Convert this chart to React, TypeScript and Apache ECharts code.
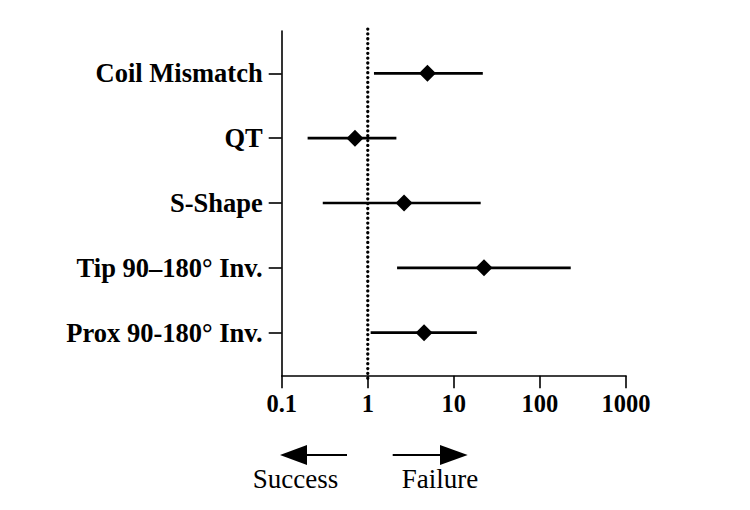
import React, { useEffect, useRef } from "react";
import * as echarts from "echarts";

const categories = [
  "Coil Mismatch",
  "QT",
  "S-Shape",
  "Tip 90–180° Inv.",
  "Prox 90-180° Inv.",
];
const oddsRatio = [4.93, 0.71, 2.64, 22.4, 4.51];
const lowerCI = [1.18, 0.2, 0.3, 2.19, 1.08];
const upperCI = [21.7, 2.15, 20.5, 228, 18.5];
const xTicks = [0.1, 1, 10, 100, 1000];
const refValue = 1;

const FONT = "'Liberation Serif', 'Times New Roman', serif";

export default function App() {
  const ref = useRef<HTMLDivElement>(null);
  useEffect(() => {
    if (!ref.current) return;
    const chart = echarts.init(ref.current, undefined, { renderer: "svg" });
    const positions = categories.map((_, i) => i + 1);
    const yMin = 0.348;
    const yMax = 5.663;
    chart.setOption({
      animation: false,
      backgroundColor: "#ffffff",
      grid: { left: 281.7, right: 124, top: 31, bottom: 134.3, containLabel: false },
      xAxis: {
        type: "log",
        logBase: 10,
        min: xTicks[0],
        max: xTicks[xTicks.length - 1],
        axisLine: { show: true, lineStyle: { color: "#000", width: 1.6 } },
        axisTick: { show: true, length: 12.5, lineStyle: { color: "#000", width: 1.6 } },
        splitLine: { show: false },
        minorTick: { show: false },
        axisLabel: {
          margin: 15,
          color: "#000",
          fontFamily: FONT,
          fontWeight: "bold",
          fontSize: 24.5,
          formatter: (v: number) => {
            const r = Number(v.toPrecision(6));
            return String(r);
          },
        },
      },
      yAxis: {
        type: "value",
        inverse: true,
        min: yMin,
        max: yMax,
        splitLine: { show: false },
        axisLine: { show: true, onZero: false, lineStyle: { color: "#000", width: 1.6 } },
        axisTick: {
          show: true,
          length: 13,
          customValues: positions,
          lineStyle: { color: "#000", width: 1.6 },
        },
        axisLabel: {
          margin: 19,
          color: "#000",
          fontFamily: FONT,
          fontWeight: "bold",
          fontSize: 26.5,
          customValues: positions,
          formatter: (v: number) => categories[Math.round(v) - 1] ?? "",
        },
      },
      series: [
        {
          type: "custom",
          data: [[refValue, yMin - 0.03, yMax + 0.08]],
          renderItem: (params: any, api: any) => {
            const p1 = api.coord([api.value(0), api.value(1)]);
            const p2 = api.coord([api.value(0), api.value(2)]);
            const step = 4.85;
            const n = Math.floor((p2[1] - p1[1]) / step);
            const children = [];
            for (let k = 0; k <= n; k++) {
              children.push({
                type: "circle",
                shape: { cx: p1[0], cy: p1[1] + k * step, r: 1.65 },
                style: { fill: "#000" },
              });
            }
            return { type: "group", children };
          },
          encode: { x: 0, y: [1, 2] },
          clip: false,
          silent: true,
          z: 1,
        },
        {
          type: "custom",
          data: categories.map((_, i) => [lowerCI[i], upperCI[i], i + 1]),
          renderItem: (params: any, api: any) => {
            const p1 = api.coord([api.value(0), api.value(2)]);
            const p2 = api.coord([api.value(1), api.value(2)]);
            return {
              type: "line",
              shape: { x1: p1[0], y1: p1[1], x2: p2[0], y2: p2[1] },
              style: { stroke: "#000", lineWidth: 2.7 },
            };
          },
          encode: { x: [0, 1], y: 2 },
          z: 2,
        },
        {
          type: "scatter",
          data: categories.map((_, i) => [oddsRatio[i], i + 1]),
          symbol: "diamond",
          symbolSize: [17, 17],
          itemStyle: { color: "#000", opacity: 1 },
          z: 3,
        },
      ],
      graphic: [
        // left arrow
        { type: "line", shape: { x1: 305, y1: 455, x2: 347, y2: 455 }, style: { stroke: "#000", lineWidth: 2.2 } },
        { type: "polygon", shape: { points: [[280, 455], [307, 445], [307, 465]] }, style: { fill: "#000" } },
        // right arrow
        { type: "line", shape: { x1: 392.7, y1: 455, x2: 442, y2: 455 }, style: { stroke: "#000", lineWidth: 2.2 } },
        { type: "polygon", shape: { points: [[467.7, 455], [440, 445], [440, 465]] }, style: { fill: "#000" } },
        {
          type: "text",
          x: 295.5,
          y: 492,
          style: {
            text: "Success",
            fill: "#000",
            font: `27px ${FONT}`,
            textAlign: "center",
            textVerticalAlign: "bottom",
          },
        },
        {
          type: "text",
          x: 440,
          y: 492,
          style: {
            text: "Failure",
            fill: "#000",
            font: `27px ${FONT}`,
            textAlign: "center",
            textVerticalAlign: "bottom",
          },
        },
      ],
    });
    return () => chart.dispose();
  }, []);
  return (
    <div
      ref={ref}
      style={{ position: "fixed", left: 0, top: 0, width: 750, height: 510 }}
    />
  );
}
